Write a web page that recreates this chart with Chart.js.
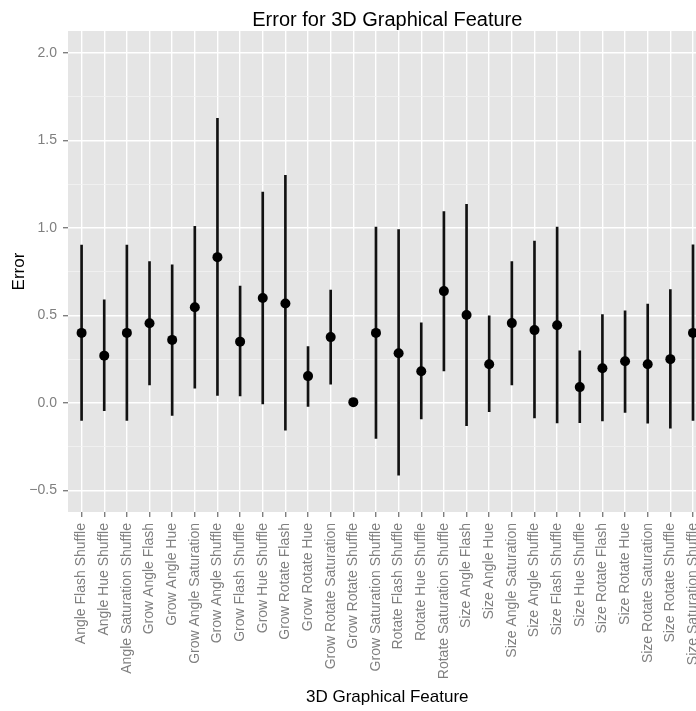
<!DOCTYPE html>
<html>
<head>
<meta charset="utf-8">
<script src="https://cdn.jsdelivr.net/npm/chart.js@4.4.1/dist/chart.umd.min.js"></script>
<style>
  html, body { margin: 0; padding: 0; overflow: hidden; background: #fff; }
  #wrap { position: relative; width: 716px; height: 711px; }
</style>
</head>
<body>
<div id="wrap"><canvas id="chart"></canvas></div>
<script>
const categories = [
    'Angle Flash Shuffle', 'Angle Hue Shuffle', 'Angle Saturation Shuffle', 'Grow Angle Flash',
    'Grow Angle Hue', 'Grow Angle Saturation', 'Grow Angle Shuffle', 'Grow Flash Shuffle',
    'Grow Hue Shuffle', 'Grow Rotate Flash', 'Grow Rotate Hue', 'Grow Rotate Saturation',
    'Grow Rotate Shuffle', 'Grow Saturation Shuffle', 'Rotate Flash Shuffle', 'Rotate Hue Shuffle',
    'Rotate Saturation Shuffle', 'Size Angle Flash', 'Size Angle Hue', 'Size Angle Saturation',
    'Size Angle Shuffle', 'Size Flash Shuffle', 'Size Hue Shuffle', 'Size Rotate Flash',
    'Size Rotate Hue', 'Size Rotate Saturation', 'Size Rotate Shuffle', 'Size Saturation Shuffle'
];
const means = [0.40, 0.27, 0.40, 0.455, 0.36, 0.547, 0.833, 0.35, 0.60, 0.568, 0.153, 0.376, 0.004, 0.40,
    0.284, 0.181, 0.639, 0.502, 0.221, 0.456, 0.416, 0.444, 0.090, 0.198, 0.238, 0.221, 0.250, 0.40];
const lowers = [-0.10, -0.044, -0.10, 0.103, -0.072, 0.084, 0.042, 0.040, -0.006, -0.156, -0.021, 0.107, 0.004, -0.204,
    -0.414, -0.092, 0.183, -0.130, -0.051, 0.103, -0.086, -0.114, -0.113, -0.103, -0.055, -0.116, -0.145, -0.101];
const uppers = [0.902, 0.589, 0.902, 0.808, 0.789, 1.009, 1.627, 0.667, 1.205, 1.301, 0.322, 0.645, 0.004, 1.005,
    0.990, 0.458, 1.093, 1.135, 0.498, 0.808, 0.925, 1.005, 0.297, 0.505, 0.526, 0.565, 0.648, 0.904];
const yTickValues = [-0.5, 0, 0.5, 1, 1.5, 2];
const yTickLabels = ['\u22120.5', '0.0', '0.5', '1.0', '1.5', '2.0'];
const yMinorValues = [-0.25, 0.25, 0.75, 1.25, 1.75];

const isMajor = v => yTickValues.includes(v);

// grey panel behind the grid, like ggplot
const panelBg = {
    id: 'panelBg',
    beforeDraw(chart) {
        const { ctx, chartArea: a } = chart;
        ctx.save();
        ctx.fillStyle = '#E5E5E5';
        ctx.fillRect(a.left, a.top, a.right - a.left, a.bottom - a.top);
        ctx.restore();
    }
};

const font = 'Liberation Sans, Arial, Helvetica, sans-serif';

new Chart(document.getElementById('chart'), {
    type: 'scatter',
    data: {
        datasets: [{
            type: 'scatter',
            data: means.map((m, i) => ({ x: i, y: m })),
            backgroundColor: '#000',
            borderWidth: 0,
            pointRadius: 5,
            pointHoverRadius: 5
        }, {
            type: 'bar',
            data: means.map((m, i) => ({ x: i, y: [lowers[i], uppers[i]] })),
            backgroundColor: '#111',
            barThickness: 2,
            borderSkipped: false
        }]
    },
    options: {
        responsive: true,
        maintainAspectRatio: false,
        animation: false,
        layout: { padding: { left: 0, right: 8, top: 0, bottom: 0 } },
        plugins: {
            legend: { display: false },
            tooltip: { enabled: false },
            title: {
                display: true,
                text: 'Error for 3D Graphical Feature',
                color: '#000',
                fullSize: false,
                font: { family: font, size: 20, weight: 'normal', lineHeight: 1 },
                padding: { top: 10, bottom: 1 }
            }
        },
        scales: {
            x: {
                type: 'linear',
                min: -0.6,
                max: categories.length - 0.4,
                offset: false,
                afterBuildTicks: s => { s.ticks = categories.map((c, i) => ({ value: i })); },
                afterFit: s => { s.height = 199; },
                border: { display: false },
                grid: { color: '#fff', lineWidth: 1.4, tickColor: '#7f7f7f', tickLength: 5, offset: false },
                ticks: {
                    autoSkip: false,
                    maxRotation: 90,
                    minRotation: 90,
                    padding: 6,
                    color: '#7f7f7f',
                    font: { family: font, size: 14 },
                    callback: v => categories[v]
                },
                title: {
                    display: true,
                    text: '3D Graphical Feature',
                    color: '#000',
                    font: { family: font, size: 17, lineHeight: 1 },
                    padding: { top: 0, bottom: 5.5 }
                }
            },
            y: {
                min: -0.624,
                max: 2.126,
                afterBuildTicks: s => {
                    s.ticks = yTickValues.concat(yMinorValues).sort((a, b) => a - b).map(v => ({ value: v }));
                },
                afterFit: s => { s.width = 68; },
                border: { display: false },
                grid: {
                    color: c => isMajor(c.tick.value) ? '#fff' : '#F2F2F2',
                    lineWidth: c => isMajor(c.tick.value) ? 1.4 : 0.8,
                    tickColor: c => isMajor(c.tick.value) ? '#7f7f7f' : 'rgba(0,0,0,0)',
                    tickLength: 5
                },
                ticks: {
                    padding: 6,
                    color: '#7f7f7f',
                    font: { family: font, size: 14 },
                    callback: v => isMajor(v) ? yTickLabels[yTickValues.indexOf(v)] : ''
                },
                title: {
                    display: true,
                    text: 'Error',
                    color: '#000',
                    font: { family: font, size: 17, lineHeight: 1 },
                    padding: { top: 10.5, bottom: 0 }
                }
            }
        }
    },
    plugins: [panelBg]
});
</script>
</body>
</html>
